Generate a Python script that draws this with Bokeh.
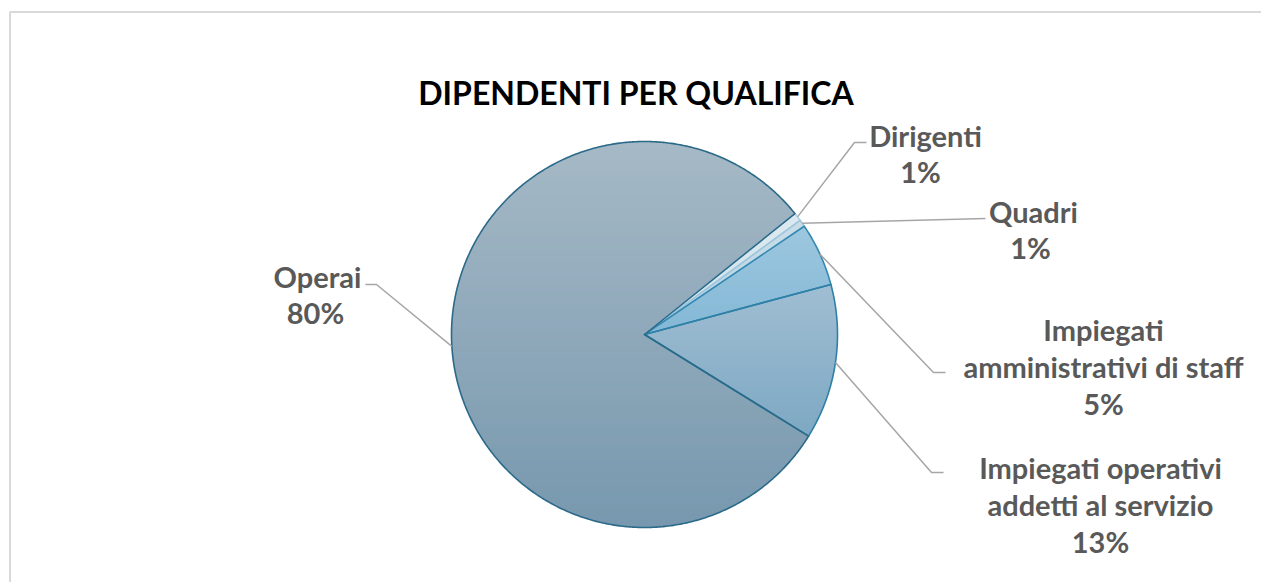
import numpy as np
from bokeh.plotting import figure
from bokeh.models import Range1d
from bokeh.core.properties import value
from bokeh.embed import file_html
from bokeh.resources import INLINE

# ---- data ----
categories = ["Dirigenti", "Quadri", "Impiegati amministrativi di staff",
              "Impiegati operativi addetti al servizio", "Operai"]
values = [0.7, 0.6, 5.3, 13.0, 80.4]
label_lines = [["Dirigenti"], ["Quadri"], ["Impiegati", "amministrativi di staff"],
               ["Impiegati operativi", "addetti al servizio"], ["Operai"]]
title_text = "DIPENDENTI PER QUALIFICA"

# ---- styles / layout ----
W, H = 1261, 582
def fx(px):
    return px
def fy(py):
    return H - py

top_colors = ["#dde9f0", "#c9dde9", "#9dc7df", "#a0bed3", "#a6b9c6"]
bot_colors = ["#cfe2ec", "#b9d3e2", "#84b8d6", "#7ea8c3", "#7798ae"]
edge_colors = ["#b3d2e2", "#9fc6dc", "#3489b3", "#2f80a6", "#2b6a89"]
start_angle = 51.2          # degrees clockwise from 12 o'clock
cx, cy, R = fx(644), fy(334), 193
label_color = "#595959"
leader_color = "#a6a6a6"
font = "Lato"
label_size = "29px"

# label layout (page coords): line centers, leader elbow and end
label_pos = [
    dict(x=[925, 920], y=[135, 171], elbow=(854, 142), end=(866, 142)),
    dict(x=[1033, 1030], y=[211, 247], elbow=(985, 218), end=(985, 218)),
    dict(x=[1103, 1103, 1103], y=[329, 366, 403], elbow=(933, 372), end=(945, 372)),
    dict(x=[1100, 1100, 1100], y=[467, 504, 541], elbow=(931, 472), end=(943, 472)),
    dict(x=[317, 315], y=[276, 312], elbow=(376, 284), end=(365, 284)),
]

p = figure(width=W, height=H, output_backend="svg", toolbar_location=None,
           x_range=Range1d(0, W), y_range=Range1d(0, H), min_border=0)
p.axis.visible = False
p.grid.visible = False
p.outline_line_color = None
p.background_fill_color = "white"
p.border_fill_color = "white"

# chart border
p.quad(left=[fx(9.5)], right=[W + 50], top=[fy(11.5)], bottom=[-50],
       fill_alpha=0, line_color="#d9d9d9", line_width=2)


def hex2rgb(h):
    h = h.lstrip("#")
    return np.array([int(h[i:i + 2], 16) for i in (0, 2, 4)], dtype=float)


def mix(c1, c2, t):
    c = hex2rgb(c1) * (1 - t) + hex2rgb(c2) * t
    return "#%02x%02x%02x" % tuple(int(round(v)) for v in c)


def clip_half(poly, yv, keep_above):
    out = []
    n = len(poly)
    for i in range(n):
        a = poly[i]
        b = poly[(i + 1) % n]
        ina = a[1] >= yv if keep_above else a[1] <= yv
        inb = b[1] >= yv if keep_above else b[1] <= yv
        if ina:
            out.append(a)
        if ina != inb:
            t = (yv - a[1]) / (b[1] - a[1])
            out.append((a[0] + t * (b[0] - a[0]), yv))
    return out


total = sum(values)
ang = start_angle
bands_x, bands_y, bands_c = [], [], []
outl_x, outl_y = [], []
mids = []
for i, v in enumerate(values):
    a0 = ang
    a1 = ang + 360.0 * v / total
    ang = a1
    mids.append((a0 + a1) / 2)
    n = max(4, int((a1 - a0) * 2))
    th = np.radians(np.linspace(a0, a1, n))
    xs = [cx] + list(cx + R * np.sin(th))
    ys = [cy] + list(cy + R * np.cos(th))
    poly = list(zip(xs, ys))
    outl_x.append(xs)
    outl_y.append(ys)
    ymax, ymin = max(ys), min(ys)
    nb = max(3, int((ymax - ymin) / 6))
    edges = np.linspace(ymax, ymin, nb + 1)
    for k in range(nb):
        yt, yb = edges[k] + 0.6, edges[k + 1] - 0.6
        q = clip_half(poly, yb, True)
        if len(q) < 3:
            continue
        q = clip_half(q, yt, False)
        if len(q) < 3:
            continue
        t = (k + 0.5) / nb
        bands_x.append([pt[0] for pt in q])
        bands_y.append([pt[1] for pt in q])
        bands_c.append(mix(top_colors[i], bot_colors[i], t))

p.patches(bands_x, bands_y, fill_color=bands_c, line_color=None)
for i in range(len(values)):
    p.patch(outl_x[i], outl_y[i], fill_alpha=0, line_color=edge_colors[i],
            line_width=1.6, line_join="round")

# leader lines and labels
for i, v in enumerate(values):
    lp = label_pos[i]
    m = np.radians(mids[i])
    sx, sy = cx + R * np.sin(m), cy + R * np.cos(m)
    ex, ey = lp["elbow"]
    tx, ty = lp["end"]
    p.line([sx, fx(ex), fx(tx)], [sy, fy(ey), fy(ty)], line_color=leader_color,
           line_width=1.5)
    pct = "%d%%" % round(100 * v / total)
    lines = label_lines[i] + [pct]
    p.text(x=[fx(x) for x in lp["x"]], y=[fy(y) for y in lp["y"]], text=lines,
           text_font=value(font), text_font_style="bold", text_font_size=label_size,
           text_color=label_color, text_align="center", text_baseline="middle")

p.text(x=[fx(635.5)], y=[fy(92)], text=[title_text], text_font=value(font),
       text_font_style="bold", text_font_size="32px", text_color="#000000",
       text_align="center", text_baseline="middle")

open("out.html", "w").write(file_html(p, INLINE))
